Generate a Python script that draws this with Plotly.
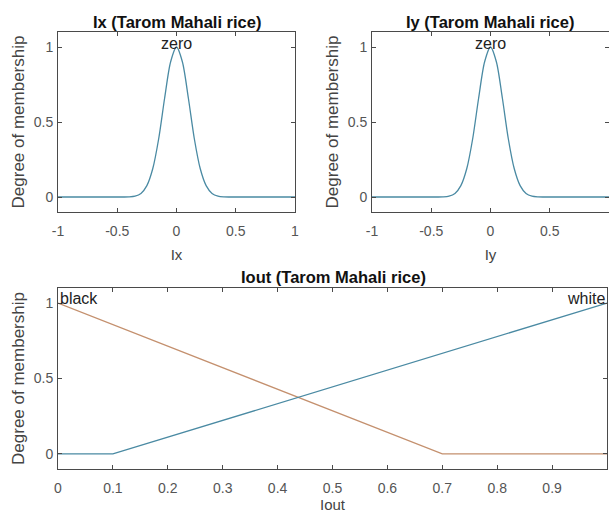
import plotly.graph_objects as go

# ---- data ----
gauss_x = [-1.0, -0.45, -0.4, -0.35, -0.3, -0.25, -0.2, -0.15, -0.1, -0.05, 0.0,
           0.05, 0.1, 0.15, 0.2, 0.25, 0.3, 0.35, 0.4, 0.45, 1.0]
ix_zero = [0.0, 0.0, 0.001, 0.006, 0.024, 0.076, 0.19, 0.39, 0.66, 0.90, 1.0,
           0.90, 0.66, 0.39, 0.19, 0.076, 0.024, 0.006, 0.001, 0.0, 0.0]
iy_zero = [0.0, 0.0, 0.001, 0.006, 0.024, 0.076, 0.19, 0.39, 0.66, 0.90, 1.0,
           0.90, 0.66, 0.39, 0.19, 0.076, 0.024, 0.006, 0.001, 0.0, 0.0]

iout_x_black = [0.0, 0.7, 1.0]
iout_black = [1.0, 0.0, 0.0]
iout_x_white = [0.0, 0.1, 1.0]
iout_white = [0.0, 0.0, 1.0]

top_ticks = [-1, -0.5, 0, 0.5, 1]
top_ticklabels = ["-1", "-0.5", "0", "0.5", "1"]
bot_ticks = [0, 0.1, 0.2, 0.3, 0.4, 0.5, 0.6, 0.7, 0.8, 0.9, 1]
bot_ticklabels = ["0", "0.1", "0.2", "0.3", "0.4", "0.5", "0.6", "0.7", "0.8", "0.9", "1"]
y_ticks = [0, 0.5, 1]
y_ticklabels = ["0", "0.5", "1"]

BLUE = "#4a8aa3"
ORANGE = "#c4906e"
AXC = "#4a4a4a"
TXT = "#555555"
FONT = "Liberation Sans, Arial, sans-serif"

W, H = 609, 513

def px_x(a):
    return a / W

def px_y(a):
    return 1 - a / H

fig = go.Figure()

fig.add_trace(go.Scatter(x=gauss_x, y=ix_zero, mode="lines", line=dict(color=BLUE, width=1.3, shape="spline", smoothing=0.8),
                         xaxis="x", yaxis="y", showlegend=False))
fig.add_trace(go.Scatter(x=gauss_x, y=iy_zero, mode="lines", line=dict(color=BLUE, width=1.3, shape="spline", smoothing=0.8),
                         xaxis="x2", yaxis="y2", showlegend=False))
fig.add_trace(go.Scatter(x=iout_x_black, y=iout_black, mode="lines", line=dict(color=ORANGE, width=1.3),
                         xaxis="x3", yaxis="y3", showlegend=False))
fig.add_trace(go.Scatter(x=iout_x_white, y=iout_white, mode="lines", line=dict(color=BLUE, width=1.3),
                         xaxis="x3", yaxis="y3", showlegend=False))

def xax(domain, anchor, rng, ticks, labels, title):
    return dict(domain=domain, anchor=anchor, range=rng, tickvals=ticks, ticktext=labels,
                showgrid=False, zeroline=False, showline=True, linecolor=AXC, linewidth=1,
                mirror="allticks", ticks="inside", ticklen=4, tickcolor=AXC, automargin=False,
                tickfont=dict(size=14, color=TXT, family=FONT), ticklabelstandoff=6,
                title=dict(text=title, font=dict(size=15, color="#444444", family=FONT), standoff=11))

def yax(domain, anchor, title):
    return dict(domain=domain, anchor=anchor, range=[-0.1, 1.1], tickvals=y_ticks, ticktext=y_ticklabels,
                showgrid=False, zeroline=False, showline=True, linecolor=AXC, linewidth=1,
                mirror="allticks", ticks="inside", ticklen=4, tickcolor=AXC, automargin=False,
                tickfont=dict(size=14, color=TXT, family=FONT), ticklabelstandoff=1,
                title=dict(text=title, font=dict(size=17, color="#444444", family=FONT), standoff=4))

top_dom_y = [px_y(212), px_y(32)]
bot_dom_y = [px_y(469), px_y(288)]

fig.update_layout(
    width=W, height=H,
    margin=dict(l=0, r=0, t=0, b=0),
    paper_bgcolor="white", plot_bgcolor="white",
    font=dict(family=FONT),
    xaxis=xax([px_x(58), px_x(295)], "y", [-1, 1], top_ticks, top_ticklabels, "Ix"),
    yaxis=yax(top_dom_y, "x", "Degree of membership"),
    xaxis2=xax([px_x(372), px_x(609)], "y2", [-1, 1], top_ticks, top_ticklabels, "Iy"),
    yaxis2=yax(top_dom_y, "x2", "Degree of membership"),
    xaxis3=xax([px_x(58), px_x(607)], "y3", [0, 1], bot_ticks, bot_ticklabels, "Iout"),
    yaxis3=yax(bot_dom_y, "x3", "Degree of membership"),
)

title_font = dict(size=16.5, color="#111111", family=FONT)
label_font = dict(size=16, color="#222222", family=FONT)
annotations = [
    dict(text="<b>Ix (Tarom Mahali rice)</b>", xref="paper", yref="paper", x=px_x(177), y=px_y(22),
         xanchor="center", yanchor="middle", showarrow=False, font=title_font),
    dict(text="<b>Iy (Tarom Mahali rice)</b>", xref="paper", yref="paper", x=px_x(490), y=px_y(22),
         xanchor="center", yanchor="middle", showarrow=False, font=title_font),
    dict(text="<b>Iout (Tarom Mahali rice)</b>", xref="paper", yref="paper", x=px_x(333), y=px_y(277),
         xanchor="center", yanchor="middle", showarrow=False, font=title_font),
    dict(text="zero", xref="x", yref="y", x=0, y=1, xanchor="center", yanchor="bottom", yshift=-7,
         showarrow=False, font=label_font),
    dict(text="zero", xref="x2", yref="y2", x=0, y=1, xanchor="center", yanchor="bottom", yshift=-7,
         showarrow=False, font=label_font),
    dict(text="black", xref="x3", yref="y3", x=0, y=1, xanchor="left", yanchor="bottom", yshift=-6,
         showarrow=False, font=label_font),
    dict(text="white", xref="x3", yref="y3", x=1, y=1, xanchor="right", yanchor="bottom", yshift=-6,
         showarrow=False, font=label_font),
]
fig.update_layout(annotations=annotations)

fig.write_html("out.html", config={"displayModeBar": False},
               post_script="document.body.style.margin='0px';")
